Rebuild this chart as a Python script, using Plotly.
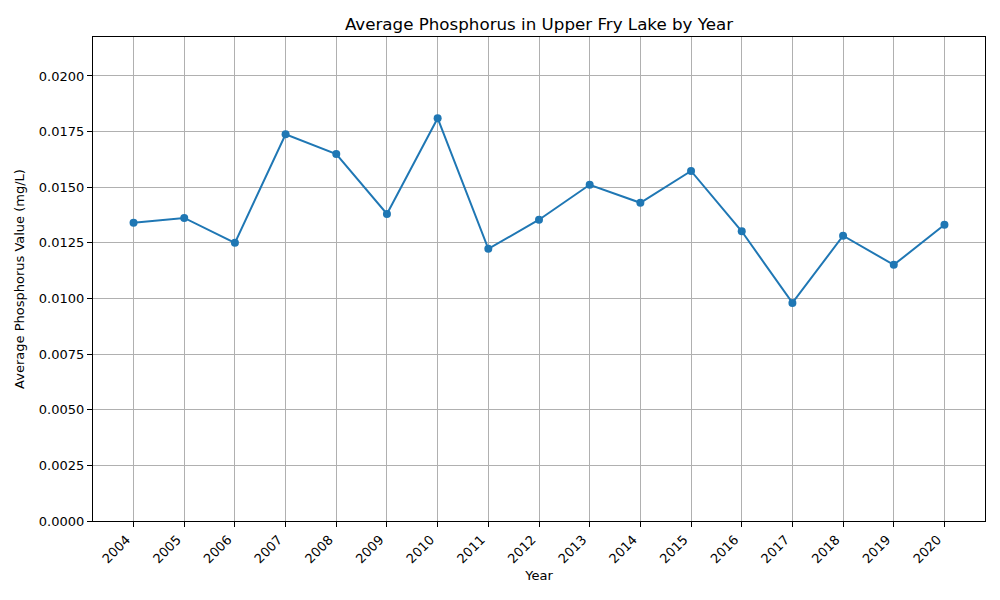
import plotly.graph_objects as go

years = ["2004", "2005", "2006", "2007", "2008", "2009", "2010", "2011", "2012",
         "2013", "2014", "2015", "2016", "2017", "2018", "2019", "2020"]
phosphorus = [0.01340, 0.01362, 0.01250, 0.01738, 0.01649, 0.01380, 0.01810, 0.01223,
              0.01354, 0.01511, 0.01430, 0.01573, 0.01302, 0.00980, 0.01282, 0.01151, 0.01331]
y_ticks = [0.0, 0.0025, 0.005, 0.0075, 0.01, 0.0125, 0.015, 0.0175, 0.02]

font_family = "DejaVu Sans"

fig = go.Figure()
fig.add_trace(go.Scatter(
    x=years, y=phosphorus, mode="lines+markers",
    line=dict(color="#1f77b4", width=2),
    marker=dict(color="#1f77b4", size=8),
    showlegend=False,
))

axis_common = dict(
    showline=True, linecolor="black", linewidth=1.1, mirror=True,
    ticks="outside", ticklen=5, tickcolor="black", tickwidth=1,
    showgrid=True, gridcolor="#b0b0b0", gridwidth=1,
    zeroline=False,
    tickfont=dict(family=font_family, size=13, color="black"),
)

fig.update_layout(
    width=1000, height=600,
    margin=dict(l=85, r=23, t=29, b=87),
    paper_bgcolor="white", plot_bgcolor="white",
    font=dict(family=font_family, color="black"),
    title=dict(text="Average Phosphorus in Upper Fry Lake by Year",
               x=531 / 1000, xanchor="center",
               y=1 - 16 / 600, yanchor="middle",
               font=dict(family=font_family, size=16.7, color="black")),
    xaxis=dict(
        **axis_common,
        type="category",
        range=[-0.8, 16.8],
        tickangle=-45,
        ticklabelshift=-7,
        title=dict(text="Year", font=dict(family=font_family, size=13), standoff=5),
    ),
    yaxis=dict(
        **axis_common,
        range=[0, 0.02175],
        tickvals=y_ticks,
        tickformat=".4f",
        title=dict(text="Average Phosphorus Value (mg/L)", font=dict(family=font_family, size=13), standoff=11),
    ),
)

fig.write_html("out.html")
